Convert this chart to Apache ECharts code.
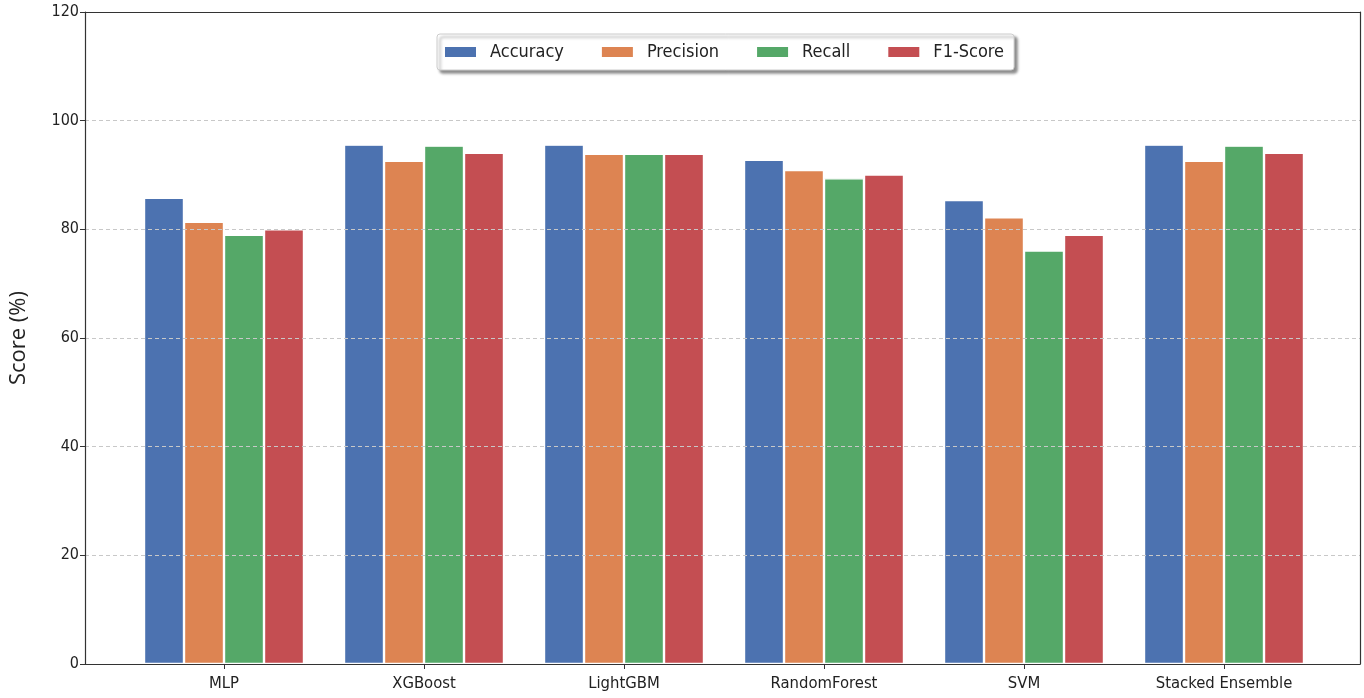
<!DOCTYPE html>
<html>
<head>
<meta charset="utf-8">
<script src="https://cdn.jsdelivr.net/npm/echarts@6/dist/echarts.min.js"></script>
<style>html,body{margin:0;padding:0;background:#fff;}#c{width:1364px;height:698px;}</style>
</head>
<body>
<div id="c"></div>
<script>
const categories = ['MLP', 'XGBoost', 'LightGBM', 'RandomForest', 'SVM', 'Stacked Ensemble'];
const accuracy  = [85.8, 95.6, 95.6, 92.8, 85.4, 95.6];
const precision = [81.4, 92.6, 93.9, 90.9, 82.2, 92.6];
const recall    = [79.0, 95.4, 93.9, 89.4, 76.1, 95.4];
const f1score   = [80.0, 94.1, 93.9, 90.1, 79.0, 94.1];
const seriesNames = ['Accuracy', 'Precision', 'Recall', 'F1-Score'];
const yTicks = [0, 20, 40, 60, 80, 100, 120];

const colors = ['#4C72B0', '#DD8452', '#55A868', '#C44E52'];
const values = [accuracy, precision, recall, f1score];
const font = 'DejaVu Sans Condensed';
const frameLine = { show: true, onZero: false, lineStyle: { color: '#333', width: 1.2 } };

const chart = echarts.init(document.getElementById('c'));
chart.setOption({
  animation: false,
  color: colors,
  grid: [
    { left: 85, right: 4, top: 12, bottom: 34, outerBoundsMode: 'none', containLabel: false },
    { left: 124, right: 40, top: 12, bottom: 34, outerBoundsMode: 'none', containLabel: false }
  ],
  legend: {
    data: seriesNames,
    left: 437, top: 34,
    padding: [9, 10, 9, 6],
    itemWidth: 33, itemHeight: 12, itemGap: 36,
    backgroundColor: '#fff',
    borderColor: '#ccc', borderWidth: 1, borderRadius: 3,
    shadowColor: 'rgba(0,0,0,0.45)', shadowBlur: 3, shadowOffsetX: 3, shadowOffsetY: 3,
    textStyle: { fontFamily: font, fontSize: 18, color: '#222', padding: [0, 0, 0, 8] },
    icon: 'rect'
  },
  xAxis: [
    { type: 'value', gridIndex: 0, min: 0, max: 1, position: 'bottom', z: 10,
      axisLine: frameLine, axisTick: { show: false }, axisLabel: { show: false }, splitLine: { show: false } },
    {
      type: 'category', gridIndex: 1,
      data: categories,
      axisLine: { show: false },
      axisTick: { show: true, alignWithLabel: true, length: 5, lineStyle: { color: '#333' } },
      axisLabel: { fontFamily: font, fontSize: 16.5, color: '#222', margin: 11 },
      splitLine: { show: false }
    },
    { type: 'value', gridIndex: 0, min: 0, max: 1, position: 'top', z: 10,
      axisLine: frameLine, axisTick: { show: false }, axisLabel: { show: false }, splitLine: { show: false } }
  ],
  yAxis: [
    {
      type: 'value', gridIndex: 0, z: 10, position: 'left', offset: 0,
      min: 0, max: 120, interval: 20,
      name: 'Score (%)',
      nameLocation: 'middle',
      nameGap: 55,
      nameTextStyle: { fontFamily: 'Open Sans', fontSize: 22, color: '#222' },
      axisLine: frameLine,
      axisTick: { show: true, length: 5, lineStyle: { color: '#333' } },
      axisLabel: { fontFamily: font, fontSize: 16, color: '#222', margin: 6,
        formatter: v => yTicks.includes(v) ? String(v) : '' },
      splitLine: { show: true, lineStyle: { type: [4, 3], color: '#c8c8c8', width: 1 } }
    },
    { type: 'value', gridIndex: 1, min: 0, max: 120, show: false },
    { type: 'value', gridIndex: 0, min: 0, max: 120, position: 'right', offset: 0, z: 10,
      axisLine: frameLine, axisTick: { show: false }, axisLabel: { show: false }, splitLine: { show: false } }
  ],
  series: seriesNames.map((n, i) => ({
    name: n,
    type: 'bar',
    xAxisIndex: 1, yAxisIndex: 1,
    data: values[i],
    barWidth: 40,
    barGap: '0%',
    itemStyle: { color: colors[i], borderColor: '#fff', borderWidth: 1.2 }
  }))
});
</script>
</body>
</html>
